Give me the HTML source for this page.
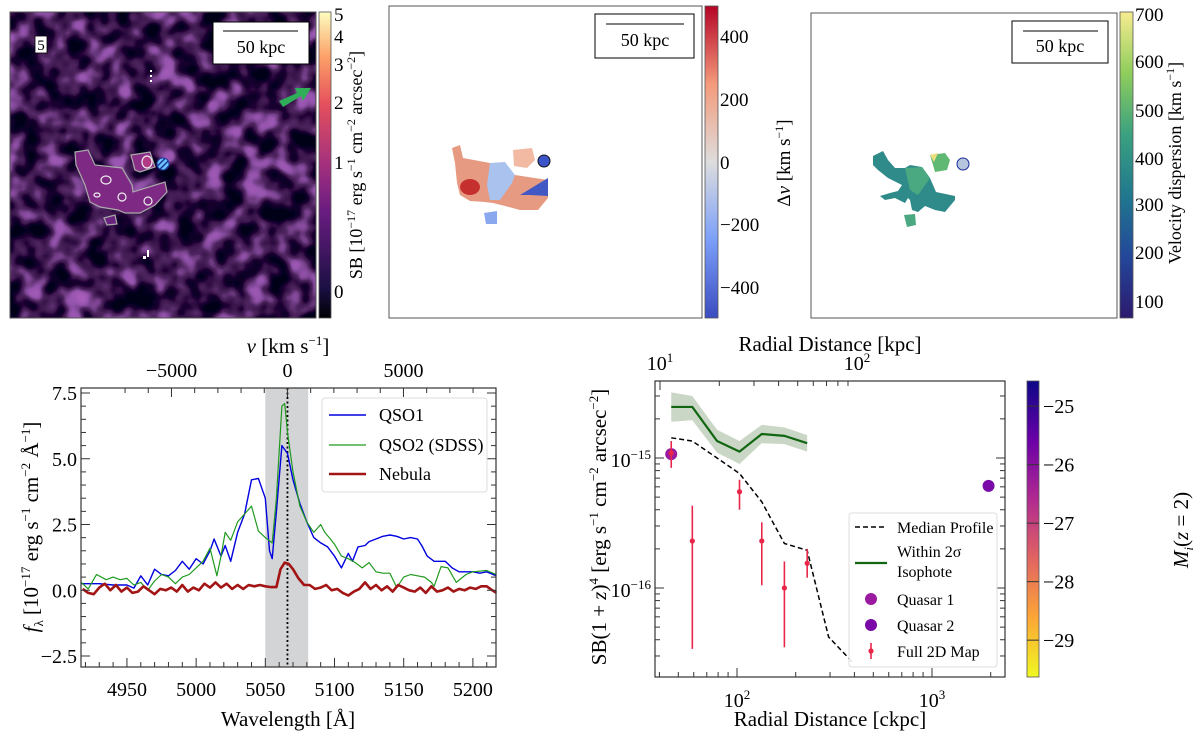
<!DOCTYPE html>
<html><head><meta charset="utf-8"><title>Nebula figure</title>
<style>
html,body{margin:0;padding:0;background:#fff;}
svg{display:block;font-family:"Liberation Serif","DejaVu Serif",serif;}
</style></head>
<body>
<svg id="fig" width="1200" height="735" viewBox="0 0 1200 735" xmlns="http://www.w3.org/2000/svg">
<defs>
  <filter id="noise" x="0" y="0" width="100%" height="100%">
    <feTurbulence type="fractalNoise" baseFrequency="0.045" numOctaves="2" seed="7" result="t"/>
    <feColorMatrix type="matrix" values="1 0 0 0 0  1 0 0 0 0  1 0 0 0 0  0 0 0 0 1" result="g"/>
    <feComponentTransfer>
      <feFuncR type="table" tableValues="0 0 0 0.01 0.08 0.3 0.38 0.42"/>
      <feFuncG type="table" tableValues="0 0 0 0 0.02 0.09 0.11 0.12"/>
      <feFuncB type="table" tableValues="0.01 0.01 0.01 0.03 0.12 0.42 0.48 0.5"/>
    </feComponentTransfer>
  </filter>
  <linearGradient id="magma" x1="0" y1="1" x2="0" y2="0">
    <stop offset="0" stop-color="#000004"/><stop offset="0.1" stop-color="#1c1044"/>
    <stop offset="0.35" stop-color="#6a1c81"/><stop offset="0.5" stop-color="#a3307e"/>
    <stop offset="0.7" stop-color="#e5505c"/><stop offset="0.85" stop-color="#fc9f67"/>
    <stop offset="1" stop-color="#fcfdbf"/>
  </linearGradient>
  <linearGradient id="coolwarm" x1="0" y1="1" x2="0" y2="0">
    <stop offset="0" stop-color="#3b4cc0"/><stop offset="0.25" stop-color="#7b9ff9"/>
    <stop offset="0.5" stop-color="#dddddd"/><stop offset="0.75" stop-color="#f49a7b"/>
    <stop offset="1" stop-color="#b40426"/>
  </linearGradient>
  <linearGradient id="viridis" x1="0" y1="1" x2="0" y2="0">
    <stop offset="0" stop-color="#2c1a6e"/><stop offset="0.2" stop-color="#23479a"/>
    <stop offset="0.4" stop-color="#20788e"/><stop offset="0.6" stop-color="#3aa180"/>
    <stop offset="0.8" stop-color="#8fcd5c"/><stop offset="1" stop-color="#f7ec90"/>
  </linearGradient>
  <linearGradient id="plasma" x1="0" y1="0" x2="0" y2="1">
    <stop offset="0" stop-color="#0d0887"/><stop offset="0.2" stop-color="#6a00a8"/>
    <stop offset="0.4" stop-color="#b12a90"/><stop offset="0.6" stop-color="#e16462"/>
    <stop offset="0.8" stop-color="#fca636"/><stop offset="1" stop-color="#f0f921"/>
  </linearGradient>
  <pattern id="hatch" width="4" height="4" patternUnits="userSpaceOnUse" patternTransform="rotate(45)">
    <rect width="4" height="4" fill="#6fc3ff"/><rect width="1.5" height="4" fill="#1a3a9a"/>
  </pattern>
</defs>

<!-- ===== Panel 1: SB map ===== -->
<g>
  <rect x="10" y="12" width="306" height="306" filter="url(#noise)"/>
  <path d="M75 152 L88 150 L95 165 L122 168 L132 185 L133 192 L165 182 L167 192 L155 205 L140 213 L125 213 L118 210 L100 207 L90 202 L85 185 L76 165 Z" fill="#7e2a84" stroke="#aaa" stroke-width="1.2"/>
  <path d="M131 155 L150 152 L155 167 L140 172 L135 170 Z" fill="#8a2d86" stroke="#aaa" stroke-width="1.2"/>
  <path d="M104 218 L115 215 L117 224 L107 225 Z" fill="#6a2480" stroke="#aaa" stroke-width="1.2"/>
  <ellipse cx="147" cy="162" rx="5" ry="6" fill="#b03a84" stroke="#eee" stroke-width="1.2"/>
  <ellipse cx="106" cy="180" rx="5" ry="4" fill="none" stroke="#eee" stroke-width="1.2"/>
  <ellipse cx="97" cy="195" rx="3" ry="2" fill="none" stroke="#eee" stroke-width="1.2"/>
  <ellipse cx="122" cy="197" rx="4" ry="4" fill="none" stroke="#eee" stroke-width="1.2"/>
  <ellipse cx="148" cy="201" rx="4" ry="4" fill="none" stroke="#eee" stroke-width="1.2"/>
  <circle cx="163" cy="164" r="6" fill="url(#hatch)" stroke="#1a3a9a" stroke-width="1"/>
  <rect x="150" y="70" width="2" height="2" fill="#fff"/><rect x="150" y="75" width="2" height="2" fill="#fff"/><rect x="150" y="80" width="2" height="2" fill="#fff"/>
  <rect x="147" y="250" width="2" height="7" fill="#fff"/><rect x="143" y="256" width="3" height="3" fill="#fff"/>
  <polygon points="279,101 297,93 295,88 311,88 303,101 301,96 283,107" fill="#2fae5a"/>
  <rect x="35" y="36" width="12" height="17" fill="#fff" stroke="#000" stroke-width="0.8"/>
  <text x="41" y="50" font-size="15" text-anchor="middle">5</text>
  <rect x="213" y="22" width="96" height="42" fill="#fff" stroke="#000"/>
  <line x1="223" y1="31" x2="298" y2="31" stroke="#000" stroke-width="1"/>
  <text x="261" y="53" font-size="18" text-anchor="middle">50 kpc</text>
  <rect x="10" y="12" width="306" height="306" fill="none" stroke="#555" stroke-width="1"/>
  <rect x="319" y="12" width="12" height="306" fill="url(#magma)" stroke="#555" stroke-width="0.8"/>
  <g font-size="19">
    <text x="334" y="21">5</text><text x="334" y="43">4</text><text x="334" y="71">3</text>
    <text x="334" y="109">2</text><text x="334" y="169">1</text><text x="334" y="298">0</text>
  </g>
  <text transform="translate(362,165) rotate(-90)" font-size="18" text-anchor="middle">SB [10<tspan font-size="12" dy="-7">−17</tspan><tspan dy="7"> erg s</tspan><tspan font-size="12" dy="-7">−1</tspan><tspan dy="7"> cm</tspan><tspan font-size="12" dy="-7">−2</tspan><tspan dy="7"> arcsec</tspan><tspan font-size="12" dy="-7">−2</tspan><tspan dy="7">]</tspan></text>
</g>

<!-- ===== Panel 2: velocity map ===== -->
<g>
  <rect x="389" y="6" width="313" height="312" fill="#fff" stroke="#555" stroke-width="1"/>
  <path d="M452 148 L460 145 L463 158 L490 163 L502 172 L515 175 L548 180 L548 198 L538 210 L520 210 L505 206 L493 203 L485 202 L470 201 L460 195 L457 183 L455 163 Z" fill="#e79a82"/>
  <ellipse cx="470" cy="187" rx="10" ry="8" fill="#c5302f"/>
  <path d="M490 163 L505 162 L515 175 L512 183 L500 200 L490 200 L487 185 Z" fill="#a9c2ee"/>
  <path d="M520 195 L548 178 L548 196 L530 195 Z" fill="#4258c4"/>
  <path d="M513 150 L532 148 L535 160 L527 168 L514 166 Z" fill="#f2b9a3"/>
  <path d="M484 213 L497 211 L497 224 L486 224 Z" fill="#89a8ee"/>
  <circle cx="544" cy="161" r="6" fill="#3b54c8" stroke="#111" stroke-width="1"/>
  <rect x="595" y="14" width="99" height="44" fill="#fff" stroke="#000"/>
  <line x1="606" y1="24" x2="684" y2="24" stroke="#000"/>
  <text x="645" y="46" font-size="18" text-anchor="middle">50 kpc</text>
  <rect x="705" y="6" width="13" height="312" fill="url(#coolwarm)" stroke="#555" stroke-width="0.8"/>
  <g font-size="19">
    <text x="720" y="43">400</text><text x="720" y="106">200</text><text x="720" y="169">0</text>
    <text x="720" y="231">−200</text><text x="720" y="294">−400</text>
  </g>
  <text transform="translate(790,163) rotate(-90)" font-size="19" text-anchor="middle">Δ<tspan font-style="italic">v</tspan> [km s<tspan font-size="12" dy="-7">−1</tspan><tspan dy="7">]</tspan></text>
</g>

<!-- ===== Panel 3: dispersion map ===== -->
<g>
  <rect x="811" y="13" width="306" height="305" fill="#fff" stroke="#555" stroke-width="1"/>
  <path d="M873 156 L883 151 L888 160 L895 168 L905 168 L910 165 L922 167 L930 178 L936 192 L955 196 L955 200 L945 212 L935 210 L925 206 L918 212 L912 210 L910 200 L908 198 L905 203 L895 198 L885 200 L880 196 L890 193 L898 191 L902 185 L888 178 L878 170 L873 165 Z" fill="#2f8a8a"/>
  <path d="M905 168 L922 167 L930 178 L918 195 L910 190 Z" fill="#4aa980"/>
  <path d="M930 155 L945 153 L950 160 L947 170 L935 172 L933 165 Z" fill="#5fb972"/>
  <path d="M930 155 L938 153 L934 162 Z" fill="#ede080"/>
  <path d="M904 215 L915 214 L916 225 L907 227 Z" fill="#4aa980"/>
  <circle cx="963" cy="164" r="6" fill="#b5c5de" stroke="#1a2a9a" stroke-width="1"/>
  <rect x="1012" y="21" width="96" height="42" fill="#fff" stroke="#000"/>
  <line x1="1023" y1="31" x2="1098" y2="31" stroke="#000"/>
  <text x="1060" y="52" font-size="18" text-anchor="middle">50 kpc</text>
  <rect x="1120" y="12" width="13" height="306" fill="url(#viridis)" stroke="#555" stroke-width="0.8"/>
  <g font-size="19">
    <text x="1135" y="21">700</text><text x="1135" y="68">600</text><text x="1135" y="117">500</text>
    <text x="1135" y="165">400</text><text x="1135" y="211">300</text><text x="1135" y="259">200</text><text x="1135" y="308">100</text>
  </g>
  <text transform="translate(1181,163) rotate(-90)" font-size="18" text-anchor="middle">Velocity dispersion [km s<tspan font-size="12" dy="-7">−1</tspan><tspan dy="7">]</tspan></text>
</g>

<g id="spec"></g>
<g id="prof"></g>
</svg>

<script>
// ---------- Spectrum data ----------
const q1Wave = [4917,4920,4930,4940,4950,4955,4960,4965,4970,4975,4980,4985,4990,4995,5000,5005,5010,5013,5018,5021,5025,5030,5035,5040,5045,5050,5053,5055,5058,5062,5066,5070,5075,5080,5085,5090,5095,5100,5105,5110,5113,5117,5122,5125,5130,5135,5140,5145,5150,5155,5160,5163,5167,5172,5180,5185,5190,5195,5200,5205,5210,5217];
const q1Flux = [0.25,0.25,0.25,0.2,0.2,0.08,0.55,0.2,0.8,0.6,0.55,0.75,1.1,0.8,1.2,1.0,1.5,1.95,1.3,1.7,1.1,2.2,2.9,4.2,4.25,3.5,1.5,1.2,3.0,5.5,5.2,4.2,3.3,2.6,2.0,1.8,1.65,1.3,0.85,1.4,1.1,1.65,1.7,1.85,1.95,2.05,2.1,2.05,1.95,2.0,1.95,1.7,1.3,1.1,1.1,0.85,0.7,0.7,0.7,0.65,0.7,0.55];
const q2Wave = [4917,4922,4928,4935,4940,4945,4950,4955,4960,4965,4970,4975,4980,4985,4990,4995,5000,5005,5010,5015,5018,5021,5025,5030,5035,5040,5045,5050,5055,5058,5062,5064,5066,5070,5075,5080,5085,5090,5093,5097,5100,5105,5110,5115,5120,5125,5130,5135,5140,5145,5150,5155,5160,5165,5170,5172,5177,5182,5188,5195,5200,5210,5217];
const q2Flux = [0.3,0.05,0.6,0.4,0.5,0.4,0.45,0.2,0.3,0.0,0.35,0.6,0.5,0.25,0.5,0.6,0.85,1.1,1.6,0.55,1.3,2.2,1.9,2.6,2.9,3.2,2.25,2.0,1.8,3.5,7.0,7.1,6.0,4.5,3.2,2.6,2.2,2.5,2.2,1.95,1.75,1.3,1.2,1.05,0.85,1.05,0.7,0.65,0.65,0.1,0.5,0.6,0.55,0.5,0.3,0.15,0.9,0.85,0.3,0.6,0.7,0.75,0.6];
const nebWave = [4918,4922,4926,4930,4934,4938,4942,4946,4950,4954,4958,4962,4966,4970,4974,4978,4982,4986,4990,4994,4998,5002,5006,5010,5014,5018,5022,5026,5030,5034,5038,5042,5046,5050,5054,5058,5061,5064,5067,5070,5074,5078,5082,5086,5090,5094,5098,5102,5106,5110,5114,5118,5122,5126,5130,5134,5138,5142,5146,5150,5154,5158,5162,5166,5170,5174,5178,5182,5186,5190,5194,5198,5202,5206,5210,5214,5217];
const nebFlux = [0.05,-0.1,-0.15,0.1,0.25,0.0,0.2,-0.05,0.1,-0.1,-0.05,0.15,0.0,-0.15,0.05,0.0,0.1,-0.05,0.2,-0.05,0.1,0.0,0.25,0.1,0.3,0.1,0.25,0.05,0.2,0.05,0.2,0.15,0.2,0.15,0.12,0.12,0.8,1.05,1.0,0.8,0.45,0.2,0.2,0.05,0.1,0.2,0.0,0.05,-0.1,-0.2,-0.05,0.05,0.3,0.05,0.2,0.0,0.15,-0.05,0.2,0.1,0.0,-0.05,0.1,-0.1,0.15,-0.05,0.0,0.1,-0.05,0.05,0.0,0.1,0.05,0.15,0.15,0.0,-0.1];
const specXTicks = [4950,5000,5050,5100,5150,5200];
const specYTicks = [-2.5,0.0,2.5,5.0,7.5];
const velTicks = [-5000,0,5000];
const bandRange = [5050,5081];
const lineCenter = [5066];

// ---------- Profile data ----------
const medR = [46,59,79,103,134,175,229,295,390];
const medSB = [1.43e-15,1.35e-15,1.0e-15,7.6e-16,4.6e-16,2.2e-16,1.95e-16,4.2e-17,2.7e-17];
const isoR = [46,59,79,103,134,175,229];
const isoSB = [2.47e-15,2.47e-15,1.35e-15,1.12e-15,1.53e-15,1.48e-15,1.3e-15];
const isoLo = [1.9e-15,1.95e-15,1.1e-15,0.9e-15,1.3e-15,1.28e-15,1.12e-15];
const isoHi = [3.2e-15,3.0e-15,1.65e-15,1.35e-15,1.8e-15,1.72e-15,1.5e-15];
const mapR = [46,59,103,134,175,229];
const mapSB = [1.09e-15,2.3e-16,5.5e-16,2.3e-16,1.0e-16,1.55e-16];
const mapLo = [8.4e-16,3.4e-17,4.0e-16,1.05e-16,3.5e-17,1.2e-16];
const mapHi = [1.35e-15,4.3e-16,6.8e-16,3.2e-16,1.6e-16,2.0e-16];
const qsoR = [46,1950];
const qsoSB = [1.07e-15,6.1e-16];
const qsoMag = [-26.3,-25.8];

const NS = 'http://www.w3.org/2000/svg';
function mk(parent, tag, attrs){ const e=document.createElementNS(NS,tag); for(const k in attrs) e.setAttribute(k,attrs[k]); parent.appendChild(e); return e; }
function txt(parent, x, y, s, size, anchor){ const t=mk(parent,'text',{x:x,y:y,'font-size':size,'text-anchor':anchor||'middle'}); t.textContent=s; return t; }
function fmt(v){ return (v<0?'−':'')+Math.abs(v).toFixed(1); }

// ===== Spectrum =====
(function(){
  const g=document.getElementById('spec');
  const L=81,R=496,T=388,B=667;
  const xS=l=>L+(l-4916.8)*(R-L)/(5216.7-4916.8);
  const yS=v=>393+(7.5-v)*26.3;
  const vS=v=>xS(5066)+v*0.0232;
  const band=mk(g,'rect',{x:xS(bandRange[0]),y:T,width:xS(bandRange[1])-xS(bandRange[0]),height:B-T,fill:'#d3d4d6'});
  
  
  const cl=mk(g,'line',{x1:xS(lineCenter[0]),x2:xS(lineCenter[0]),y1:T,y2:B,stroke:'#000','stroke-width':1.8,'stroke-dasharray':'2,2.5'});
  
  
  function series(w,f,color,width,name){
    const p=mk(g,'polyline',{points:w.map((l,i)=>xS(l).toFixed(1)+','+yS(f[i]).toFixed(1)).join(' '),fill:'none',stroke:color,'stroke-width':width,'stroke-linejoin':'round'});
    
    
  }
  series(q1Wave,q1Flux,'#0000e0',1.4,'qso1-line');
  series(q2Wave,q2Flux,'#1f9a1f',1.2,'qso2-line');
  series(nebWave,nebFlux,'#a31515',2.6,'nebula-line');
  mk(g,'rect',{x:L,y:T,width:R-L,height:B-T,fill:'none',stroke:'#333','stroke-width':1.2});
  for(let l=4920;l<=5210;l+=10){ const mj=specXTicks.includes(l); const len=mj?9:5;
    mk(g,'line',{x1:xS(l),x2:xS(l),y1:B,y2:B-len,stroke:'#333'}); }
  specXTicks.forEach(l=>{ const t=txt(g,xS(l),696,String(l),20);
      });
  for(let v=-2.5;v<=7.5001;v+=0.5){ const mj=Math.abs(v/2.5-Math.round(v/2.5))<1e-6; const len=mj?9:5;
    mk(g,'line',{x1:L,x2:L+len,y1:yS(v),y2:yS(v),stroke:'#333'});
    mk(g,'line',{x1:R,x2:R-len,y1:yS(v),y2:yS(v),stroke:'#333'}); }
  specYTicks.forEach(v=>{ const t=txt(g,L-4,yS(v)+7,fmt(v),20,'end');
      });
  for(let v=-7000;v<=8000;v+=1000){ const x=vS(v); if(x<L||x>R) continue; const mj=velTicks.includes(v);
    mk(g,'line',{x1:x,x2:x,y1:T,y2:T+(mj?9:5),stroke:'#333'}); }
  velTicks.forEach(v=>{ const t=txt(g,vS(v),377,(v<0?'−':'')+Math.abs(v),20);
      });
  const xl=txt(g,288,726,'Wavelength [Å]',21);
   
  const tl=mk(g,'text',{x:288,y:353,'font-size':21,'text-anchor':'middle'});
  tl.innerHTML='<tspan font-style="italic">v</tspan> [km s<tspan font-size="13" dy="-8">−1</tspan><tspan dy="8">]</tspan>';
   
  const yl=mk(g,'text',{transform:'translate(38,527) rotate(-90)','font-size':21,'text-anchor':'middle'});
  yl.innerHTML='<tspan font-style="italic">f</tspan><tspan font-size="13" dy="5">λ</tspan><tspan dy="-5"> [10</tspan><tspan font-size="13" dy="-8">−17</tspan><tspan dy="8"> erg s</tspan><tspan font-size="13" dy="-8">−1</tspan><tspan dy="8"> cm</tspan><tspan font-size="13" dy="-8">−2</tspan><tspan dy="8"> Å</tspan><tspan font-size="13" dy="-8">−1</tspan><tspan dy="8">]</tspan>';
   
  const lg=mk(g,'g',{});
   
  mk(lg,'rect',{x:322,y:398,width:165,height:94,rx:3,fill:'#fff','fill-opacity':0.85,stroke:'#ddd'});
  [['QSO1','#0000e0',1.4,415],['QSO2 (SDSS)','#1f9a1f',1.2,445],['Nebula','#a31515',2.6,474]].forEach(e=>{
    mk(lg,'line',{x1:329,x2:366,y1:e[3],y2:e[3],stroke:e[1],'stroke-width':e[2]});
    const t=txt(lg,379,e[3]+6,e[0],18,'start');
     
  });
})();

// ===== Profile =====
(function(){
  const g=document.getElementById('prof');
  const L=655,R=1005,T=381,B=677;
  const xS=r=>737+(Math.log10(r)-2)*195;
  const yS=s=>458-(Math.log10(s)+15)*130;
  const kS=k=>660+(Math.log10(k)-1)*197;
  const cS=m=>381+(-24.57-m)*(296/5.06);
  const ptsU=isoR.map((r,i)=>xS(r)+','+yS(isoHi[i])).join(' ');
  const ptsL=isoR.slice().reverse().map((r,j)=>{const i=isoR.length-1-j; return xS(r)+','+yS(isoLo[i]);}).join(' ');
  const bnd=mk(g,'polygon',{points:ptsU+' '+ptsL,fill:'#a8bca0','fill-opacity':0.6});
   
  const iso=mk(g,'polyline',{points:isoR.map((r,i)=>xS(r)+','+yS(isoSB[i])).join(' '),fill:'none',stroke:'#116611','stroke-width':2.2});
   
  const med=mk(g,'polyline',{points:medR.map((r,i)=>xS(r)+','+yS(medSB[i])).join(' '),fill:'none',stroke:'#000','stroke-width':1.5,'stroke-dasharray':'5,3'});
   
  const qc=['#9a1aa0','#7a0aa8'];
  qsoR.forEach((r,i)=>{ const c=mk(g,'circle',{cx:xS(r),cy:yS(qsoSB[i]),r:6,fill:qc[i]});
      });
  mapR.forEach((r,i)=>{
    const e=mk(g,'line',{x1:xS(r),x2:xS(r),y1:yS(mapHi[i]),y2:yS(mapLo[i]),stroke:'#e8264a','stroke-width':1.6});
     
    const c=mk(g,'circle',{cx:xS(r),cy:yS(mapSB[i]),r:2.6,fill:'#e8264a'});
     
  });
  mk(g,'rect',{x:L,y:T,width:R-L,height:B-T,fill:'none',stroke:'#333','stroke-width':1.2});
  [[10],[100],[1000]].forEach(([a])=>{ for(let k=1;k<10;k++){ const v=a*k; const x=xS(v); if(x<L||x>R) continue;
    mk(g,'line',{x1:x,x2:x,y1:B,y2:B-(k===1?9:5),stroke:'#333'}); } });
  [[100,'2'],[1000,'3']].forEach(([v,e])=>{ const t=mk(g,'text',{x:xS(v),y:707,'font-size':20,'text-anchor':'middle'});
    t.innerHTML='10<tspan font-size="13" dy="-8">'+e+'</tspan>';
      });
  for(let k=2;k<10;k++){ const x=kS(k); if(x>=L) mk(g,'line',{x1:x,x2:x,y1:T,y2:T+5,stroke:'#333'}); }
  for(let k=1;k<10;k++){ const x=kS(k*10); mk(g,'line',{x1:x,x2:x,y1:T,y2:T+(k===1?9:5),stroke:'#333'}); }
  [[10,'1'],[100,'2']].forEach(([v,e])=>{ const t=mk(g,'text',{x:kS(v),y:370,'font-size':20,'text-anchor':'middle'});
    t.innerHTML='10<tspan font-size="13" dy="-8">'+e+'</tspan>';
      });
  [1e-17,1e-16,1e-15].forEach(a=>{ for(let k=1;k<10;k++){ const y=yS(a*k); if(y<T||y>B) continue;
    mk(g,'line',{x1:L,x2:L+(k===1?9:5),y1:y,y2:y,stroke:'#333'});
    mk(g,'line',{x1:R,x2:R-(k===1?9:5),y1:y,y2:y,stroke:'#333'}); } });
  [[1e-15,'−15'],[1e-16,'−16']].forEach(([v,e])=>{ const t=mk(g,'text',{x:L-4,y:yS(v)+9,'font-size':20,'text-anchor':'end'});
    t.innerHTML='10<tspan font-size="13" dy="-8">'+e+'</tspan>';
      });
  const xl=txt(g,830,726,'Radial Distance [ckpc]',21);
   
  const tl=txt(g,830,351,'Radial Distance [kpc]',21);
   
  const yl=mk(g,'text',{transform:'translate(606,527) rotate(-90)','font-size':21,'text-anchor':'middle'});
  yl.innerHTML='SB(1 + <tspan font-style="italic">z</tspan>)<tspan font-size="13" dy="-8">4</tspan><tspan dy="8"> [erg s</tspan><tspan font-size="13" dy="-8">−1</tspan><tspan dy="8"> cm</tspan><tspan font-size="13" dy="-8">−2</tspan><tspan dy="8"> arcsec</tspan><tspan font-size="13" dy="-8">−2</tspan><tspan dy="8">]</tspan>';
   
  const lg=mk(g,'g',{});
   
  mk(lg,'rect',{x:849,y:513,width:148,height:154,rx:3,fill:'#fff','fill-opacity':0.9,stroke:'#ddd'});
  mk(lg,'line',{x1:855,x2:887,y1:527,y2:527,stroke:'#000','stroke-width':1.5,'stroke-dasharray':'5,3'});
  txt(lg,897,533,'Median Profile',16,'start');
  mk(lg,'line',{x1:855,x2:887,y1:563,y2:563,stroke:'#116611','stroke-width':2.2});
  txt(lg,897,557,'Within 2σ',16,'start'); txt(lg,897,577,'Isophote',16,'start');
  mk(lg,'circle',{cx:871,cy:599,r:6,fill:qc[0]}); txt(lg,897,605,'Quasar 1',16,'start');
  mk(lg,'circle',{cx:871,cy:625,r:6,fill:qc[1]}); txt(lg,897,631,'Quasar 2',16,'start');
  mk(lg,'line',{x1:871,x2:871,y1:643,y2:659,stroke:'#e8264a','stroke-width':1.6});
  mk(lg,'circle',{cx:871,cy:651,r:2.6,fill:'#e8264a'}); txt(lg,897,657,'Full 2D Map',16,'start');
  const cb=mk(g,'rect',{x:1027,y:T,width:12,height:B-T,fill:'url(#plasma)',stroke:'#555','stroke-width':0.8});
   
  [-25,-26,-27,-28,-29].forEach(m=>{ mk(g,'line',{x1:1027,x2:1039,y1:cS(m),y2:cS(m),stroke:'#333'});
    const t=txt(g,1043,cS(m)+7,'−'+Math.abs(m),20,'start');
      });
  const cl=mk(g,'text',{transform:'translate(1188,530) rotate(-90)','font-size':21,'text-anchor':'middle'});
  cl.innerHTML='<tspan font-style="italic">M</tspan><tspan font-size="13" dy="5" font-style="italic">i</tspan><tspan dy="-5">(</tspan><tspan font-style="italic">z</tspan> = 2)';
   
})();
</script>
</body></html>
